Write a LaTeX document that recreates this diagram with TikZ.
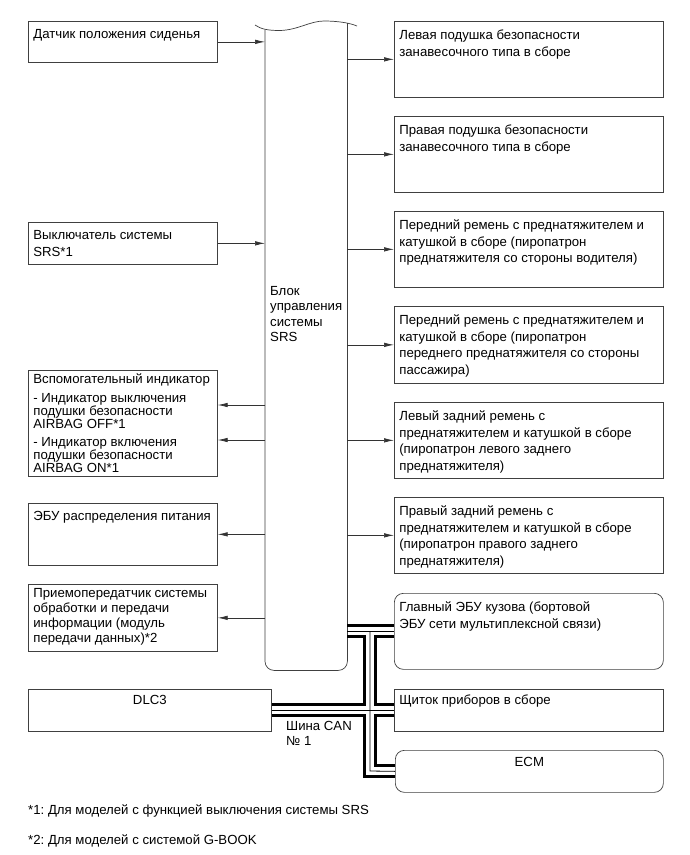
\documentclass[tikz,border=0pt]{standalone}
\usepackage{fontspec}
\setmainfont{Liberation Sans}
\usetikzlibrary{arrows.meta}
\frenchspacing
\newcommand\fsz{13.2}
\newcommand\fs{\fontsize{\fsz}{16.5}\selectfont}
\newcommand\bt[4]{\parbox[c][#1][t]{#2}{\fs\raggedright\rule{0pt}{#3}#4}}
\newcommand\btc[4]{\parbox[c][#1][t]{#2}{\fs\centering\rule{0pt}{#3}#4}}
\begin{document}
\begin{tikzpicture}[x=1pt,y=-1pt,
  box/.style={draw=black!75, line width=0.7pt, anchor=north west, inner xsep=5pt, inner ysep=0pt},
  rbox/.style={box, rounded corners=9pt},
  ln/.style={draw=black!75, line width=0.7pt},
  arr/.style={draw=black!80, line width=0.7pt, -{Latex[length=10pt,width=4.5pt]}},
  busthick/.style={draw=black, line width=3.5pt, line join=miter, line cap=butt},
  busthin/.style={draw=black, line width=0.8pt}]
\fill[white] (0,0) rectangle (690,855);
\useasboundingbox (0,0) rectangle (690,855);

% SRS block
\node[inner sep=0, minimum width=82pt, minimum height=648pt, anchor=north west] (srs) at (265,22) {};
\draw[ln, rounded corners=9pt] (srs.west |- 0,30) -- (srs.south west) -- (srs.south east) -- (srs.east |- 0,23);
\draw[ln] (255,25) .. controls (261,29) and (267,30.5) .. (280,30.5)
  .. controls (298,30) and (310,21) .. (324,21)
  .. controls (338,21) and (350,23) .. (357,26);
\node[inner sep=0, anchor=north west] (srstext) at (270,280)
  {\parbox[t]{75pt}{\fontsize{\fsz}{15.5}\selectfont\raggedright\rule{0pt}{15pt}Блок\\управления\\системы\\SRS}};

% left boxes
\node[box] (l1) at (28,21) {\bt{41pt}{179pt}{17pt}{\mbox{Датчик положения сиденья}}};
\node[box] (l2) at (28,222) {\bt{42pt}{179pt}{17.5pt}{\mbox{Выключатель системы}\\\mbox{SRS*1}}};
\node[box] (l3) at (28,370) {\bt{106pt}{179pt}{13.5pt}{\fontsize{\fsz}{13.3}\selectfont
  \mbox{Вспомогательный индикатор}\\[5pt]
  \mbox{- Индикатор выключения}\\
  \mbox{подушки безопасности}\\
  \mbox{AIRBAG OFF*1}\\[4pt]
  \mbox{- Индикатор включения}\\
  \mbox{подушки безопасности}\\
  \mbox{AIRBAG ON*1}}};
\node[box] (l4) at (28,503) {\bt{62pt}{179pt}{17.5pt}{\mbox{ЭБУ распределения питания}}};
\node[box] (l5) at (28,584) {\bt{67pt}{179pt}{13.5pt}{\fontsize{\fsz}{15}\selectfont
  \mbox{Приемопередатчик системы}\\
  \mbox{обработки и передачи}\\
  \mbox{информации (модуль}\\
  \mbox{передачи данных)*2}}};
\node[box] (dlc) at (28,689) {\btc{42pt}{233pt}{15.5pt}{DLC3}};

% right boxes
\node[box] (r1) at (394,21) {\bt{76pt}{259pt}{18.5pt}{\mbox{Левая подушка безопасности}\\\mbox{занавесочного типа в сборе}}};
\node[box] (r2) at (394,116) {\bt{76pt}{259pt}{18.5pt}{\mbox{Правая подушка безопасности}\\\mbox{занавесочного типа в сборе}}};
\node[box] (r3) at (394,211) {\bt{76pt}{259pt}{18.5pt}{\mbox{Передний ремень с преднатяжителем и}\\\mbox{катушкой в сборе (пиропатрон}\\\mbox{преднатяжителя со стороны водителя)}}};
\node[box] (r4) at (394,306) {\bt{77pt}{259pt}{18.5pt}{\mbox{Передний ремень с преднатяжителем и}\\\mbox{катушкой в сборе (пиропатрон}\\\mbox{переднего преднатяжителя со стороны}\\\mbox{пассажира)}}};
\node[box] (r5) at (394,402) {\bt{76pt}{259pt}{18.5pt}{\mbox{Левый задний ремень с}\\\mbox{преднатяжителем и катушкой в сборе}\\\mbox{(пиропатрон левого заднего}\\\mbox{преднатяжителя)}}};
\node[box] (r6) at (394,497) {\bt{76pt}{259pt}{18.5pt}{\mbox{Правый задний ремень с}\\\mbox{преднатяжителем и катушкой в сборе}\\\mbox{(пиропатрон правого заднего}\\\mbox{преднатяжителя)}}};
\node[rbox] (glav) at (394,593) {\bt{76pt}{259pt}{18.5pt}{\mbox{Главный ЭБУ кузова (бортовой}\\\mbox{ЭБУ сети мультиплексной связи)}}};
\node[box] (shch) at (394,689) {\bt{42pt}{259pt}{15.5pt}{\mbox{Щиток приборов в сборе}}};
\node[rbox] (ecm) at (395,750) {\btc{42pt}{258pt}{16.5pt}{ECM}};

% arrows into SRS
\draw[arr] (l1.east) -- (srs.west |- l1.east);
\draw[arr] (l2.east) -- (srs.west |- l2.east);
% arrows out of SRS
\draw[arr] (srs.west |- 0,405) -- (l3.east |- 0,405);
\draw[arr] (srs.west |- 0,440) -- (l3.east |- 0,440);
\draw[arr] (srs.west |- l4.east) -- (l4.east);
\draw[arr] (srs.west |- l5.east) -- (l5.east);
\foreach \r in {r1,r2,r3,r4,r5,r6}
  \draw[arr] (srs.east |- \r.west) -- (\r.west);

% CAN bus
\draw[busthick] (srs.east |- 0,625.5) -- (glav.west |- 0,625.5);
\draw[busthick] (srs.east |- 0,636.5) -| (364.5,704.5) -- (dlc.east |- 0,704.5);
\draw[busthick] (glav.west |- 0,636.5) -| (375.5,704.5) -- (shch.west |- 0,704.5);
\draw[busthick] (dlc.east |- 0,715.5) -| (364.5,776.5) -- (ecm.west |- 0,776.5);
\draw[busthick] (shch.west |- 0,715.5) -| (375.5,765.5) -- (ecm.west |- 0,765.5);
\draw[busthin] (srs.east |- glav.west) -- (glav.west);
\draw[busthin] (370,631) -- (370,771) -- (ecm.west);
\draw[busthin] (dlc.east) -- (shch.west);

\node[inner sep=0, anchor=north west] (can) at (286,715.5)
  {\parbox[t]{70pt}{\fontsize{\fsz}{14.5}\selectfont\raggedright\rule{0pt}{15pt}Шина CAN\\№ 1}};

% footnotes
\node[inner sep=0, anchor=base west, font=\fs] (fn1) at (28,814) {*1: Для моделей с функцией выключения системы SRS};
\node[inner sep=0, anchor=base west, font=\fs] (fn2) at (28,844) {*2: Для моделей с системой G-BOOK};
\end{tikzpicture}
\end{document}
